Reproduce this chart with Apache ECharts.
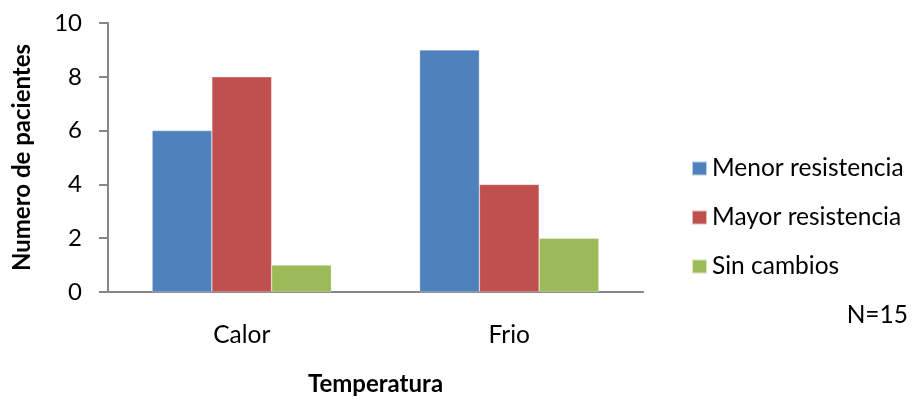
<!DOCTYPE html>
<html><head><meta charset="utf-8">
<script src="https://cdn.jsdelivr.net/npm/echarts@6/dist/echarts.min.js"></script>
<style>html,body{margin:0;padding:0;background:#fff}#c{width:912px;height:401px}</style>
</head><body><div id="c"></div>
<script>
const categories = ['Calor', 'Frio'];
const seriesNames = ['Menor resistencia', 'Mayor resistencia', 'Sin cambios'];
const menorResistencia = [6, 9];
const mayorResistencia = [8, 4];
const sinCambios = [1, 2];
const yTicks = [0, 2, 4, 6, 8, 10];
const xTitle = 'Temperatura';
const yTitle = 'Numero de pacientes';
const note = 'N=15';

const colors = ['#4F81BD', '#C0504D', '#9BBB59'];
const values = [menorResistencia, mayorResistencia, sinCambios];
const FONT = 'Lato';

const chart = echarts.init(document.getElementById('c'));
chart.setOption({
  animation: false,
  textStyle: { fontFamily: FONT },
  grid: { left: 108, right: 269, top: 23, bottom: 107, containLabel: false },
  legend: {
    orient: 'vertical', left: 686, top: 151,
    itemWidth: 15, itemHeight: 14, itemGap: 24,
    icon: 'rect',
    textStyle: { fontFamily: FONT, fontSize: 24.5, lineHeight: 24, color: '#000' },
    data: seriesNames
  },
  xAxis: {
    type: 'category', data: categories,
    axisLine: { lineStyle: { color: '#868686', width: 2 } },
    axisTick: { show: false },
    axisLabel: { color: '#000', fontSize: 24.5, fontFamily: FONT, margin: 31 },
    name: xTitle, nameLocation: 'middle', nameGap: 80,
    nameTextStyle: { fontWeight: 'bold', fontSize: 24, color: '#000', fontFamily: FONT }
  },
  yAxis: {
    type: 'value', min: yTicks[0], max: yTicks[yTicks.length - 1], interval: 2,
    axisLine: { show: true, lineStyle: { color: '#868686', width: 2 } },
    axisTick: { show: true, length: 9, lineStyle: { color: '#868686', width: 2 } },
    splitLine: { show: false },
    axisLabel: { color: '#000', fontSize: 24, fontFamily: FONT, margin: 26 },
    name: yTitle, nameLocation: 'middle', nameGap: 74,
    nameTextStyle: { fontWeight: 'bold', fontSize: 24, color: '#000', fontFamily: FONT }
  },
  graphic: [{
    type: 'text', right: 4, top: 303,
    style: { text: note, fontSize: 24.5, fontFamily: FONT, fill: '#000' }
  }],
  series: seriesNames.map((n, i) => ({
    name: n, type: 'bar', data: values[i],
    barGap: '0%', barCategoryGap: '33%',
    itemStyle: { color: colors[i], borderColor: 'rgba(255,255,255,0.6)', borderWidth: 0.5 }
  }))
});
</script></body></html>
